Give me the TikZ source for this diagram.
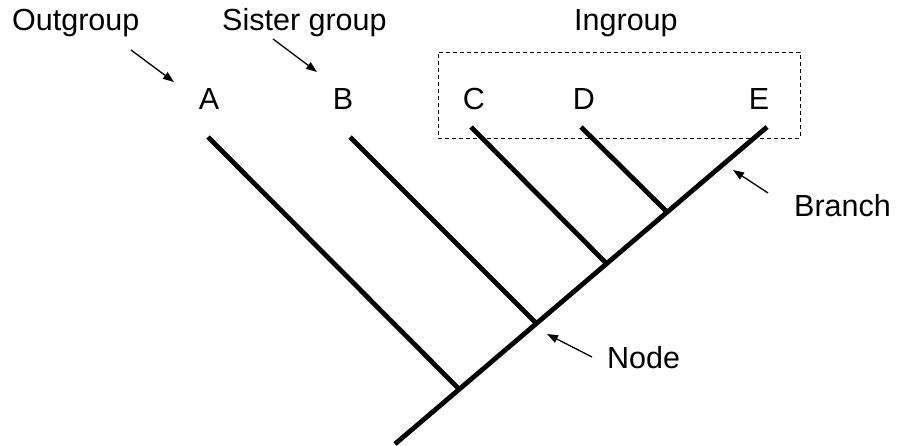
\documentclass[tikz,border=0pt]{standalone}
\usepackage{fontspec}
\setmainfont{Liberation Sans}
\usetikzlibrary{arrows.meta}
\begin{document}
\begin{tikzpicture}[x=1pt,y=-1pt,
  lbl/.style={anchor=base west,inner sep=0pt,font=\fontsize{30.5}{36}\selectfont},
  tip/.style={anchor=base,inner sep=0pt,font=\fontsize{30.5}{36}\selectfont},
  limb/.style={line width=4.8pt,line cap=butt},
  pointer/.style={line width=1.3pt,-{Triangle[length=11pt,width=8pt]}},
  groupbox/.style={draw,line width=0.9pt,dash pattern=on 4pt off 3pt}]
\useasboundingbox (0,0) rectangle (899,446);

% tree: root, internal nodes and tips
\coordinate (root) at (395,444);
\coordinate (nA) at (458,388);
\coordinate (nB) at (535,322);
\coordinate (nC) at (606,263);
\coordinate (nD) at (666,211);
\coordinate (tA) at (208,137);
\coordinate (tB) at (350,137);
\coordinate (tC) at (471,127);
\coordinate (tD) at (581,127);
\coordinate (tE) at (767,127);

\draw[limb] (root) -- (tE);
\draw[limb] (nA) -- (tA);
\draw[limb] (nB) -- (tB);
\draw[limb] (nC) -- (tC);
\draw[limb] (nD) -- (tD);

% tip labels
\node[tip] (lA) at (209,110) {A};
\node[tip] (lB) at (343,110) {B};
\node[tip] (lC) at (474,110) {C};
\node[tip] (lD) at (584,110) {D};
\node[tip] (lE) at (759,110) {E};

% ingroup box
\node[groupbox,minimum width=362pt,minimum height=86pt,inner sep=0pt] (box) at (619,95) {};

% group and part labels
\node[lbl] (out) at (12,31) {Outgroup};
\node[lbl] (sis) at (222,31) {Sister group};
\node[lbl] (ing) at (574,31) {Ingroup};
\node[lbl] (br) at (794,217) {Branch};
\node[lbl] (nd) at (607,368) {Node};

% pointers
\coordinate (p1s) at (131,50);
\coordinate (p1e) at (174,82);
\coordinate (p2s) at (273,39);
\coordinate (p2e) at (317,72);
\coordinate (p3s) at (768,193);
\coordinate (p3e) at (733,170);
\coordinate (p4s) at (592,357);
\coordinate (p4e) at (547,334);
\draw[pointer] (p1s) -- (p1e);
\draw[pointer] (p2s) -- (p2e);
\draw[pointer] (p3s) -- (p3e);
\draw[pointer] (p4s) -- (p4e);
\end{tikzpicture}
\end{document}
